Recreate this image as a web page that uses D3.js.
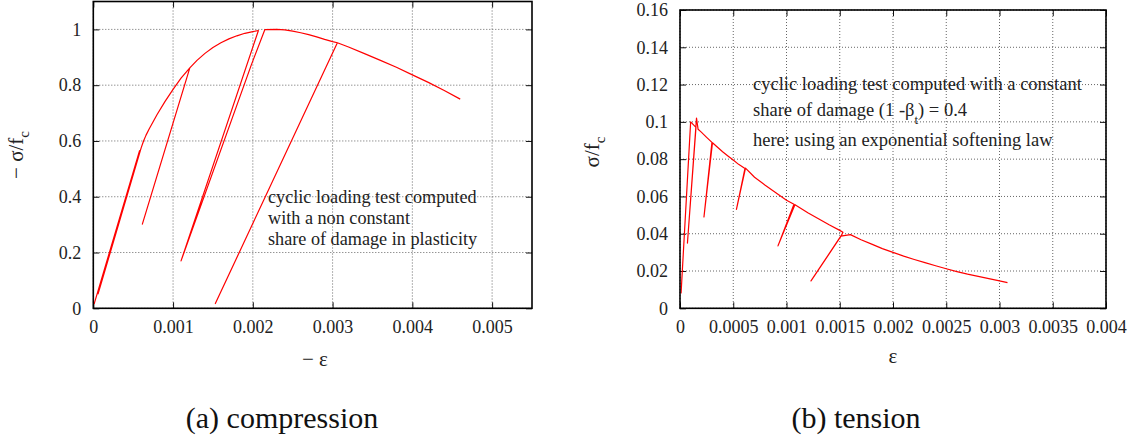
<!DOCTYPE html>
<html>
<head>
<meta charset="utf-8">
<script src="https://cdn.jsdelivr.net/npm/d3@7"></script>
<style>
  body { margin: 0; background: #fff; }
  svg { display: block; }
  svg text { font-family: 'Liberation Serif', 'Times New Roman', Times, Tinos, 'DejaVu Serif', serif; }
</style>
</head>
<body>
<svg id="chart" width="1135" height="447"></svg>
<script>
const SERIF = "'Liberation Serif', 'Times New Roman', Times, Tinos, 'DejaVu Serif', serif";

// compression test: strain (-eps) and normalised stress (-sigma/fc), in drawing order
const compEps = [0.00001, 0.00058, 0.00006, 0.0006, 0.00063, 0.00066, 0.0007, 0.0008, 0.0009, 0.001,
  0.0011, 0.00121, 0.000615, 0.00121, 0.0013, 0.0014, 0.0015, 0.0016, 0.0017, 0.0018, 0.0019, 0.002,
  0.00207, 0.0011, 0.00198, 0.00215, 0.0023, 0.0024, 0.0025, 0.0026, 0.0027, 0.0028, 0.0029, 0.003,
  0.00306, 0.00153, 0.00306, 0.0032, 0.0034, 0.0036, 0.0038, 0.004, 0.0042, 0.0044, 0.0046];
const compSig = [0.015, 0.565, 0.052, 0.575, 0.6, 0.62, 0.643, 0.695, 0.742, 0.785,
  0.825, 0.862, 0.302, 0.862, 0.889, 0.914, 0.935, 0.952, 0.966, 0.977, 0.986, 0.992,
  0.996, 0.17, 0.872, 0.999, 1.0, 0.998, 0.994, 0.988, 0.981, 0.973, 0.964, 0.956,
  0.952, 0.017, 0.952, 0.937, 0.913, 0.889, 0.864, 0.837, 0.81, 0.781, 0.75];

// tension test: strain (eps) and normalised stress (sigma/fc)
const tensEps = [0.00001, 0.0001, 0.00015, 0.00007, 0.000155, 0.00017, 0.0002, 0.00025, 0.0003, 0.000225,
  0.000305, 0.00035, 0.0004, 0.00045, 0.0005, 0.00055, 0.00061, 0.00053, 0.000615, 0.0007,
  0.0008, 0.0009, 0.001, 0.00107, 0.00092, 0.00108, 0.0012, 0.0013, 0.0014, 0.0015,
  0.00153, 0.00151, 0.00123, 0.00151, 0.0016, 0.0017, 0.0018, 0.0019, 0.002, 0.0021,
  0.0022, 0.0023, 0.0024, 0.0025, 0.0026, 0.0027, 0.0028, 0.0029, 0.003, 0.003075];
const tensSig = [0.008, 0.1, 0.097, 0.035, 0.102, 0.096, 0.0945, 0.0917, 0.089, 0.049,
  0.0888, 0.0865, 0.084, 0.0817, 0.0795, 0.0772, 0.075, 0.053, 0.0752, 0.0703,
  0.066, 0.062, 0.058, 0.0558, 0.0335, 0.0556, 0.0513, 0.048, 0.0448, 0.0418,
  0.0408, 0.0385, 0.0147, 0.0387, 0.0395, 0.0368, 0.0344, 0.032, 0.03, 0.028,
  0.0262, 0.0245, 0.0228, 0.0212, 0.0197, 0.0183, 0.0171, 0.0159, 0.0147, 0.0138];

// ticks
const compXTicks = [0, 0.001, 0.002, 0.003, 0.004, 0.005];
const compXLabels = ["0", "0.001", "0.002", "0.003", "0.004", "0.005"];
const compYTicks = [0, 0.2, 0.4, 0.6, 0.8, 1];
const compYLabels = ["0", "0.2", "0.4", "0.6", "0.8", "1"];
const tensXTicks = [0, 0.0005, 0.001, 0.0015, 0.002, 0.0025, 0.003, 0.0035, 0.004];
const tensXLabels = ["0", "0.0005", "0.001", "0.0015", "0.002", "0.0025", "0.003", "0.0035", "0.004"];
const tensYTicks = [0, 0.02, 0.04, 0.06, 0.08, 0.1, 0.12, 0.14, 0.16];
const tensYLabels = ["0", "0.02", "0.04", "0.06", "0.08", "0.1", "0.12", "0.14", "0.16"];

const svg = d3.select("#chart");

// draw one gnuplot-style panel: frame, dotted grid, inward ticks on all sides
function drawPanel(box, xDomain, yDomain, xt, xl, yt, yl, eps, sig) {
  const x = d3.scaleLinear().domain(xDomain).range([box.left, box.right]);
  const y = d3.scaleLinear().domain(yDomain).range([box.bottom, box.top]);
  const g = svg.append("g");

  // grid
  g.selectAll(".vg").data(xt).enter().append("line")
    .attr("x1", d => x(d)).attr("x2", d => x(d))
    .attr("y1", box.top).attr("y2", box.bottom)
    .attr("stroke", "#666").attr("stroke-width", 1).attr("stroke-dasharray", "1,2");
  g.selectAll(".hg").data(yt).enter().append("line")
    .attr("x1", box.left).attr("x2", box.right)
    .attr("y1", d => y(d)).attr("y2", d => y(d))
    .attr("stroke", "#666").attr("stroke-width", 1).attr("stroke-dasharray", "1,2");

  // axes with inward ticks
  const bottom = g.append("g").attr("transform", `translate(0,${box.bottom})`)
    .call(d3.axisBottom(x).tickValues(xt).tickSize(-6).tickFormat((d, i) => xl[i]));
  bottom.selectAll("text").attr("y", 25).attr("dy", null);
  g.append("g").attr("transform", `translate(0,${box.top})`)
    .call(d3.axisTop(x).tickValues(xt).tickSize(-6).tickFormat(""));
  const left = g.append("g").attr("transform", `translate(${box.left},0)`)
    .call(d3.axisLeft(y).tickValues(yt).tickSize(-6).tickFormat((d, i) => yl[i]));
  left.selectAll("text").attr("x", -12);
  g.append("g").attr("transform", `translate(${box.right},0)`)
    .call(d3.axisRight(y).tickValues(yt).tickSize(-6).tickFormat(""));

  g.selectAll(".domain").remove();
  g.selectAll("g").attr("font-family", SERIF);
  g.selectAll(".tick line").attr("stroke", "#111").attr("stroke-width", 1);
  g.selectAll(".tick text")
    .attr("font-family", SERIF).attr("font-size", 18).attr("fill", "#222");

  // curve
  const pts = eps.map((e, i) => [e, sig[i]]);
  g.append("path").datum(pts)
    .attr("d", d3.line().x(d => x(d[0])).y(d => y(d[1])))
    .attr("fill", "none").attr("stroke", "#ff0000").attr("stroke-width", 1.2)
    .attr("stroke-linejoin", "round");

  // frame
  g.append("rect")
    .attr("x", box.left).attr("y", box.top)
    .attr("width", box.right - box.left).attr("height", box.bottom - box.top)
    .attr("fill", "none").attr("stroke", "#000").attr("stroke-width", 1.6);
  return g;
}

const boxA = { left: 93.3, right: 532, top: 1.5, bottom: 308.3 };
const boxB = { left: 680, right: 1106, top: 10, bottom: 308.3 };

const gA = drawPanel(boxA, [0, 0.0055], [0, 1.1], compXTicks, compXLabels, compYTicks, compYLabels, compEps, compSig);
const gB = drawPanel(boxB, [0, 0.004], [0, 0.16], tensXTicks, tensXLabels, tensYTicks, tensYLabels, tensEps, tensSig);

// annotations
function textBlock(g, x, ys, lines, size) {
  lines.forEach((l, i) => {
    const t = g.append("text").attr("x", x).attr("y", ys[i])
      .attr("font-family", SERIF).attr("font-size", size).attr("fill", "#222");
    l.forEach(p => {
      const s = t.append("tspan").text(p.t);
      if (p.sub) s.attr("font-size", size * 0.7).attr("baseline-shift", "sub");
    });
  });
}
textBlock(gA, 268, [203, 224, 244.5], [
  [{ t: "cyclic loading test computed" }],
  [{ t: "with a non constant" }],
  [{ t: "share of damage in plasticity" }]
], 18.2);
textBlock(gB, 753, [90, 116, 146], [
  [{ t: "cyclic loading test computed with a constant" }],
  [{ t: "share of damage (1 -β" }, { t: "t", sub: true }, { t: ") = 0.4" }],
  [{ t: "here: using an exponential softening law" }]
], 18.5);

// axis titles
function yTitle(cx, cy, parts) {
  const t = svg.append("text").attr("transform", `translate(${cx},${cy}) rotate(-90)`)
    .attr("text-anchor", "middle").attr("dominant-baseline", "middle")
    .attr("font-family", SERIF).attr("font-size", 21).attr("fill", "#222");
  parts.forEach(p => {
    const s = t.append("tspan").text(p.t);
    if (p.sub) s.attr("font-size", 15).attr("baseline-shift", "sub");
  });
}
yTitle(18, 155, [{ t: "− σ/f" }, { t: "c", sub: true }]);
yTitle(594, 152, [{ t: "σ/f" }, { t: "c", sub: true }]);

svg.append("text").attr("x", 315).attr("y", 366).attr("text-anchor", "middle")
  .attr("font-family", SERIF).attr("font-size", 21).attr("fill", "#222").text("− ε");
svg.append("text").attr("x", 893).attr("y", 363).attr("text-anchor", "middle")
  .attr("font-family", SERIF).attr("font-size", 21).attr("fill", "#222").text("ε");

// captions
svg.append("text").attr("x", 282).attr("y", 428).attr("text-anchor", "middle")
  .attr("font-family", SERIF).attr("font-size", 30).attr("fill", "#111").text("(a) compression");
svg.append("text").attr("x", 856).attr("y", 428).attr("text-anchor", "middle")
  .attr("font-family", SERIF).attr("font-size", 30).attr("fill", "#111").text("(b) tension");
</script>
</body>
</html>
